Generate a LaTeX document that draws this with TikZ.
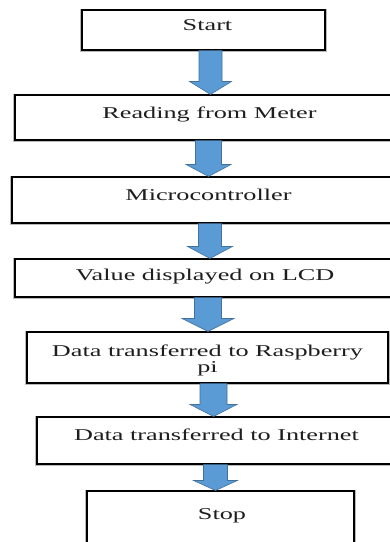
\documentclass[tikz,border=0pt]{standalone}
\usepackage{fontspec}
\setmainfont{Liberation Serif}
\usetikzlibrary{calc}
\definecolor{arrowfill}{HTML}{5B9BD5}
\definecolor{arrowedge}{HTML}{41719C}
\definecolor{inkgray}{HTML}{1E1E1E}
\tikzset{
  stepbox/.style={draw=black, line width=1.1pt, fill=white, inner sep=0pt},
  steptext/.style={anchor=base, inner sep=0pt, text=inkgray,
    font=\fontsize{16.5}{16}\selectfont},
  edgeshade/.style={draw=gray!55, line width=1pt},
  flowarrow/.style={fill=arrowfill, draw=arrowedge, line width=0.6pt, line join=miter},
}
% text in the boxes is set wide
\newcommand\wide[1]{\scalebox{1.59}[1]{#1}}
% soft grey edge along the left, bottom and right of a box
\newcommand\boxshade[1]{%
  \draw[edgeshade] ([xshift=-1.4pt]#1.north west) -- ([shift={(-1.4pt,-1.4pt)}]#1.south west)
    -- ([shift={(1.4pt,-1.4pt)}]#1.south east) -- ([xshift=1.4pt]#1.north east);}
% block arrow: from node, to node, centre x, half shaft, half head, head length
\newcommand\flowstep[6]{%
  \draw[flowarrow] let \p1=(#1.south), \p2=(#2.north) in
    (#3pt-#4pt,\y1) -- (#3pt-#4pt,\y2+#6pt) -- (#3pt-#5pt,\y2+#6pt) -- (#3pt,\y2)
    -- (#3pt+#5pt,\y2+#6pt) -- (#3pt+#4pt,\y2+#6pt) -- (#3pt+#4pt,\y1) -- cycle;}
\begin{document}
\begin{tikzpicture}[x=1pt, y=-1pt]
  \useasboundingbox (0,0) rectangle (390,542);
  \clip (0,0) rectangle (390,542);
  \fill[white] (0,0) rectangle (390,542);

  % boxes
  \node[stepbox, minimum width=243, minimum height=40] (b1) at (203.5,30) {};
  \node[stepbox, minimum width=389, minimum height=45] (b2) at (209.5,117.5) {};
  \node[stepbox, minimum width=393, minimum height=46] (b3) at (208.5,200) {};
  \node[stepbox, minimum width=380, minimum height=38] (b4) at (205,278) {};
  \node[stepbox, minimum width=361, minimum height=51] (b5) at (207.5,357.5) {};
  \node[stepbox, minimum width=359, minimum height=47] (b6) at (216.5,440.5) {};
  \node[stepbox, minimum width=267, minimum height=79] (b7) at (220.5,530.5) {};
  \foreach \b in {b1,b2,b3,b4,b5,b6,b7} {\boxshade{\b}}

  % labels
  \node[steptext] (t1) at (207.5,30) {\wide{Start}};
  \node[steptext] (t2) at (209.5,118) {\wide{Reading from Meter}};
  \node[steptext] (t3) at (208.5,200) {\wide{Microcontroller}};
  \node[steptext] (t4) at (205,280) {\wide{Value displayed on LCD}};
  \node[steptext] (t5) at (207.5,356) {\wide{\begin{tabular}[t]{@{}c@{}}Data transferred to Raspberry\\pi\end{tabular}}};
  \node[steptext] (t6) at (216.5,440) {\wide{Data transferred to Internet}};
  \node[steptext] (t7) at (222,519) {\wide{Stop}};

  % arrows between the steps
  \flowstep{b1}{b2}{210.5}{11.5}{21}{13}
  \flowstep{b2}{b3}{208.5}{13}{22.5}{12}
  \flowstep{b3}{b4}{210}{11.5}{22.5}{12}
  \flowstep{b4}{b5}{208}{13.5}{26}{13}
  \flowstep{b5}{b6}{213.5}{13.5}{23.5}{12}
  \flowstep{b6}{b7}{215.5}{12}{22}{10}
\end{tikzpicture}
\end{document}
